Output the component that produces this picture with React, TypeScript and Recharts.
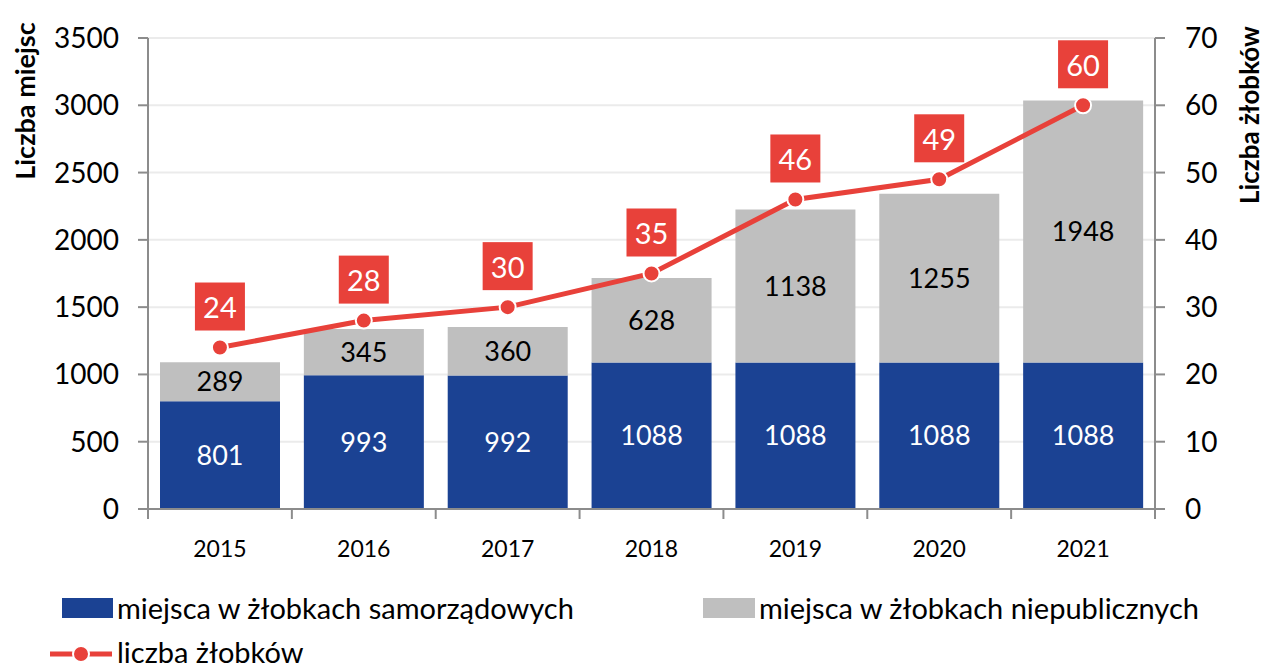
import { Bar, CartesianGrid, ComposedChart, LabelList, Legend, Line, XAxis, YAxis } from 'recharts'

const years = ['2015', '2016', '2017', '2018', '2019', '2020', '2021']
const samorzadowe = [801, 993, 992, 1088, 1088, 1088, 1088]
const niepubliczne = [289, 345, 360, 628, 1138, 1255, 1948]
const zlobki = [24, 28, 30, 35, 46, 49, 60]
const leftTicks = [0, 500, 1000, 1500, 2000, 2500, 3000, 3500]
const rightTicks = [0, 10, 20, 30, 40, 50, 60, 70]

const BLUE = '#1b4293'
const GREY = '#bfbfbf'
const RED = '#e8413a'
const AXIS = '#8c8c8c'
const FONT = 'Lato, "Open Sans", sans-serif'

const W = 1266
const H = 668
const PLOT_LEFT = 148
const PLOT_RIGHT = 1155
const PLOT_BOTTOM = 509
const BAND = (PLOT_RIGHT - PLOT_LEFT) / years.length

const data = years.map((year, i) => ({
    year,
    samorzadowe: samorzadowe[i],
    niepubliczne: niepubliczne[i],
    zlobki: zlobki[i],
}))

const XTick = (props: any) => {
    const { x, payload, index } = props
    const half = BAND / 2
    return (
        <g>
            <line x1={x - half} x2={x - half} y1={PLOT_BOTTOM} y2={PLOT_BOTTOM + 10} stroke={AXIS} strokeWidth={2} />
            {index === years.length - 1 && (
                <line x1={x + half} x2={x + half} y1={PLOT_BOTTOM} y2={PLOT_BOTTOM + 10} stroke={AXIS} strokeWidth={2} />
            )}
            <text x={x} y={548} textAnchor="middle" dominantBaseline="central" fontSize={23} fill="#000" fontFamily={FONT}>
                {payload.value}
            </text>
        </g>
    )
}

const BoxLabel = (props: any) => {
    const { x, y, value } = props
    return (
        <g>
            <rect x={x - 25} y={y - 65} width={50} height={48} fill={RED} />
            <text x={x} y={y - 41} textAnchor="middle" dominantBaseline="central" fontSize={29} fill="#fff" fontFamily={FONT}>
                {value}
            </text>
        </g>
    )
}

const legendText = { position: 'absolute' as const, left: 0, lineHeight: '28px', whiteSpace: 'nowrap' as const }

const renderLegend = () => (
    <div style={{ position: 'relative', width: W, height: 83, fontFamily: FONT, fontSize: 29, color: '#000' }}>
        <div style={{ position: 'absolute', left: 62, top: 13, width: 51, height: 20, background: BLUE }} />
        <div style={{ ...legendText, left: 117, top: 9 }}>miejsca w żłobkach samorządowych</div>
        <div style={{ position: 'absolute', left: 703, top: 13, width: 52, height: 20, background: GREY }} />
        <div style={{ ...legendText, left: 759, top: 9 }}>miejsca w żłobkach niepublicznych</div>
        <svg style={{ position: 'absolute', left: 48, top: 57 }} width={66} height={24}>
            <line x1={2} x2={64} y1={12} y2={12} stroke={RED} strokeWidth={5} />
            <circle cx={33} cy={12} r={8} fill={RED} stroke="#fff" strokeWidth={2} />
        </svg>
        <div style={{ ...legendText, left: 117, top: 53 }}>liczba żłobków</div>
    </div>
)

const App = () => {
    return (
        <div style={{ position: 'absolute', left: 0, top: 0, width: W, height: H, background: '#fff' }}>
            <ComposedChart
                width={W}
                height={H}
                data={data}
                margin={{ top: 38, right: 51, bottom: 109, left: 68 }}
                barCategoryGap={0}
            >
                <CartesianGrid yAxisId="left" vertical={false} stroke="#ebebeb" strokeWidth={2} />
                <XAxis
                    dataKey="year"
                    height={50}
                    tickLine={false}
                    axisLine={{ stroke: AXIS, strokeWidth: 2 }}
                    tick={<XTick />}
                    interval={0}
                />
                <YAxis
                    yAxisId="left"
                    width={80}
                    domain={[0, 3500]}
                    ticks={leftTicks}
                    interval={0}
                    tickSize={10}
                    tickMargin={19}
                    axisLine={{ stroke: AXIS, strokeWidth: 2 }}
                    tickLine={{ stroke: AXIS, strokeWidth: 2 }}
                    tick={{ fill: '#000', fontSize: 28, fontFamily: FONT }}
                    label={{
                        content: () => (
                            <text
                                x={0}
                                y={0}
                                transform="translate(24 101) rotate(-90)"
                                textAnchor="middle"
                                dominantBaseline="central"
                                fontSize={27}
                                fontWeight="bold"
                                fontFamily={FONT}
                                fill="#000"
                            >
                                Liczba miejsc
                            </text>
                        ),
                    }}
                />
                <YAxis
                    yAxisId="right"
                    orientation="right"
                    width={60}
                    domain={[0, 70]}
                    ticks={rightTicks}
                    interval={0}
                    tickSize={10}
                    tickMargin={20}
                    axisLine={{ stroke: AXIS, strokeWidth: 2 }}
                    tickLine={{ stroke: AXIS, strokeWidth: 2 }}
                    tick={{ fill: '#000', fontSize: 28, fontFamily: FONT }}
                    label={{
                        content: () => (
                            <text
                                x={0}
                                y={0}
                                transform="translate(1249 115) rotate(-90)"
                                textAnchor="middle"
                                dominantBaseline="central"
                                fontSize={26}
                                fontWeight="bold"
                                fontFamily={FONT}
                                fill="#000"
                            >
                                Liczba żłobków
                            </text>
                        ),
                    }}
                />
                <Legend
                    layout="horizontal"
                    verticalAlign="middle"
                    align="center"
                    content={renderLegend}
                    wrapperStyle={{ top: 585, left: 0, width: W, height: 83 }}
                />
                <Bar yAxisId="left" dataKey="samorzadowe" name="miejsca w żłobkach samorządowych" stackId="a" fill={BLUE} barSize={120} isAnimationActive={false}>
                    <LabelList dataKey="samorzadowe" position="center" fill="#fff" fontSize={27} fontFamily={FONT} />
                </Bar>
                <Bar yAxisId="left" dataKey="niepubliczne" name="miejsca w żłobkach niepublicznych" stackId="a" fill={GREY} barSize={120} isAnimationActive={false}>
                    <LabelList dataKey="niepubliczne" position="center" fill="#000" fontSize={27} fontFamily={FONT} />
                </Bar>
                <Line
                    yAxisId="right"
                    dataKey="zlobki"
                    name="liczba żłobków"
                    type="linear"
                    stroke={RED}
                    strokeWidth={5}
                    dot={{ r: 8, fill: RED, stroke: '#fff', strokeWidth: 2 }}
                    activeDot={false}
                    isAnimationActive={false}
                >
                    <LabelList dataKey="zlobki" content={<BoxLabel />} />
                </Line>
            </ComposedChart>
        </div>
    )
}

export default App
